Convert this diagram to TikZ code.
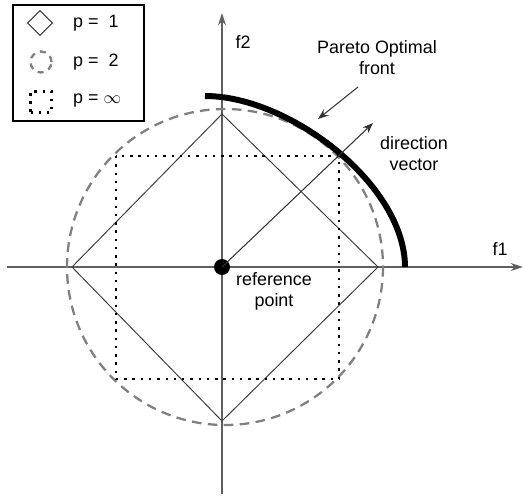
\documentclass[tikz,border=0pt]{standalone}
\usepackage{fontspec}
\setmainfont{Liberation Sans}
\usepackage{xcolor}
\usetikzlibrary{shapes.geometric, arrows.meta, positioning}
\definecolor{axisgray}{RGB}{95, 95, 95}
\definecolor{normgray}{RGB}{60, 60, 60}
\definecolor{circgray}{RGB}{128, 128, 128}

\begin{document}
\begin{tikzpicture}[
    x=0.02cm, y=-0.02cm,
    every node/.style={font=\fontsize{10.2}{12}\selectfont},
    axis/.style={-{Stealth[length=7pt, width=4.5pt]}, draw=axisgray, line width=0.7pt},
    normone/.style={draw=normgray, line width=0.55pt},
    normtwo/.style={draw=circgray, line width=1.3pt, dash pattern=on 5.5pt off 3.6pt},
    norminf/.style={draw=black, line width=1.5pt, dash pattern=on 1.4pt off 3.3pt},
    pointer/.style={-{Stealth[length=6pt, width=4.5pt]}, draw=black!80, line width=0.6pt},
    label/.style={align=center, inner sep=1pt}
]
    \useasboundingbox (0,0) rectangle (524,495);

    % Axes
    \coordinate (x_from) at (7,267);
    \coordinate (x_to) at (523,267);
    \coordinate (y_from) at (222,494);
    \coordinate (y_to) at (222,13);
    \draw[axis] (x_from) -- (x_to);
    \draw[axis] (y_from) -- (y_to);
    \node (f1_label) at (500,249) {f1};
    \node (f2_label) at (243,42) {f2};

    % Unit balls
    \coordinate (d_left) at (72,267);
    \coordinate (d_top) at (222,114);
    \coordinate (d_right) at (378,267);
    \coordinate (d_bottom) at (222,421);
    \draw[normone] (d_left) -- (d_top) -- (d_right) -- (d_bottom) -- cycle;
    \draw[normtwo] (225,267) circle[radius=158];
    \draw[norminf] (116,156) rectangle (339,379);

    % Pareto front
    \coordinate (front_start) at (205,96);
    \coordinate (front_end) at (405,267);
    \draw[line width=3.4pt] (front_start) .. controls (290,96) and (405,185) .. (front_end);

    % Reference point and direction
    \node[circle, fill=black, inner sep=0pt, minimum size=0.32cm] (ref) at (222,267) {};
    \coordinate (dir_tip) at (373,123);
    \draw[pointer] (ref.center) -- (dir_tip);
    \node[label] (ref_label) at (274,291) {reference\\point};
    \node[label] (dir_label) at (414,154) {direction\\vector};

    \node[label] (front_label) at (377,58) {Pareto Optimal\\front};
    \coordinate (front_from) at (358,87);
    \coordinate (front_tip) at (318,119);
    \draw[pointer] (front_from) -- (front_tip);

    % Legend
    \node[draw, line width=0.8pt, minimum width=2.62cm, minimum height=2.32cm] (legend) at (78.5,63) {};
    \node[diamond, draw=normgray, line width=0.6pt, inner sep=0pt, minimum size=0.5cm] (leg_one) at (40,23) {};
    \node[circle, draw=circgray, line width=1.3pt, dash pattern=on 3.5pt off 3pt, inner sep=0pt, minimum size=0.42cm] (leg_two) at (41,62) {};
    \node[rectangle, draw=black, line width=1.5pt, dash pattern=on 1.4pt off 3.2pt, inner sep=0pt, minimum size=0.42cm] (leg_inf) at (41,102) {};
    \node[anchor=west] (leg_one_txt) at (67,23) {p = \ 1};
    \node[anchor=west] (leg_two_txt) at (67,62) {p = \ 2};
    \node[anchor=west] (leg_inf_txt) at (67,101) {p = $\infty$};
\end{tikzpicture}
\end{document}
